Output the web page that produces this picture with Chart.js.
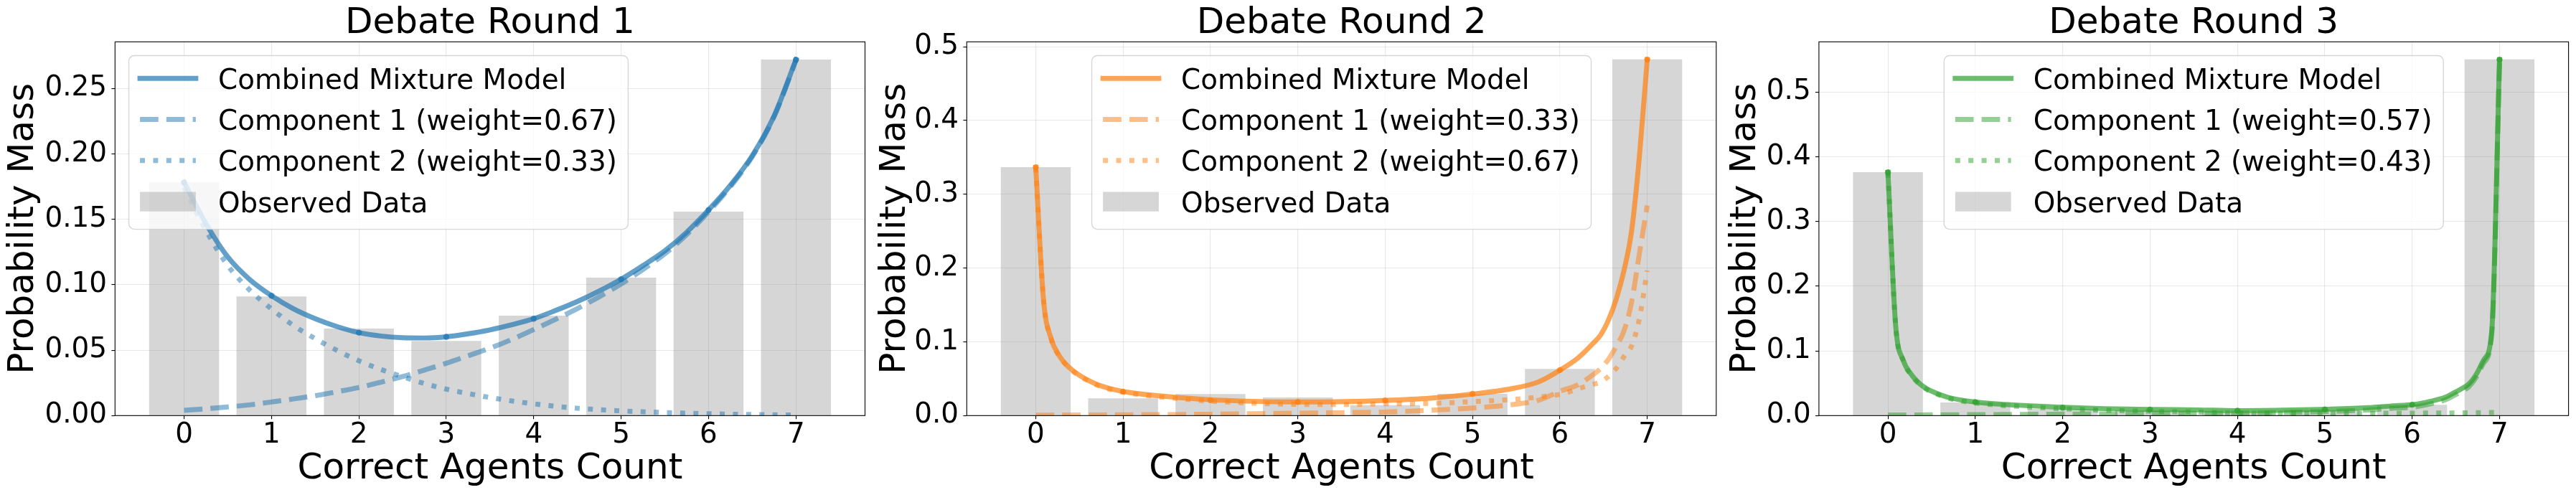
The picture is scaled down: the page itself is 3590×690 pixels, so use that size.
<!DOCTYPE html>
<html>
<head>
<meta charset="utf-8">
<script src="https://cdn.jsdelivr.net/npm/chart.js@4/dist/chart.umd.min.js"></script>
<style>
  html, body { margin: 0; padding: 0; background: #ffffff; }
  body { width: 3590px; height: 690px; position: relative; overflow: hidden; }
  canvas { position: absolute; top: 0; }
</style>
</head>
<body>
<canvas id="c1"></canvas>
<canvas id="c2"></canvas>
<canvas id="c3"></canvas>
<script>
// ---------------- data ----------------
const xTicks = [0, 1, 2, 3, 4, 5, 6, 7];
const xTickLabels = ['0', '1', '2', '3', '4', '5', '6', '7'];

const titles = ['Debate Round 1', 'Debate Round 2', 'Debate Round 3'];
const xAxisTitle = 'Correct Agents Count';
const yAxisTitle = 'Probability Mass';

const r1YTicks = [0, 0.05, 0.10, 0.15, 0.20, 0.25];
const r1YTickLabels = ['0.00', '0.05', '0.10', '0.15', '0.20', '0.25'];
const r2YTicks = [0, 0.1, 0.2, 0.3, 0.4, 0.5];
const r2YTickLabels = ['0.0', '0.1', '0.2', '0.3', '0.4', '0.5'];
const r3YTicks = [0, 0.1, 0.2, 0.3, 0.4, 0.5];
const r3YTickLabels = ['0.0', '0.1', '0.2', '0.3', '0.4', '0.5'];
const yMaxByRound = [0.2856, 0.5067, 0.5776];

const seriesLabels = ['Combined Mixture Model', 'Observed Data'];
const r1CompLabels = ['Component 1 (weight=0.67)', 'Component 2 (weight=0.33)'];
const r2CompLabels = ['Component 1 (weight=0.33)', 'Component 2 (weight=0.67)'];
const r3CompLabels = ['Component 1 (weight=0.57)', 'Component 2 (weight=0.43)'];

// observed bars
const r1Observed = [0.1782, 0.0910, 0.0665, 0.0570, 0.0763, 0.1054, 0.1558, 0.2721];
const r2Observed = [0.3368, 0.0235, 0.0292, 0.0245, 0.0141, 0.0295, 0.0633, 0.4829];
const r3Observed = [0.3762, 0.0202, 0.0103, 0.0084, 0.0050, 0.0090, 0.0168, 0.5504];

// combined model at integer counts (markers)
const r1Markers = [0.1782, 0.0916, 0.0634, 0.0602, 0.0740, 0.1042, 0.1571, 0.2719];
const r2Markers = [0.3365, 0.0325, 0.0208, 0.0185, 0.0206, 0.0294, 0.0617, 0.4826];
const r3Markers = [0.3759, 0.0210, 0.0122, 0.0092, 0.0076, 0.0095, 0.0168, 0.5500];

// round 1 curves
const r1CurveX = [0, 0.25, 0.5, 0.75, 1, 1.25, 1.5, 1.75, 2, 2.25, 2.5, 2.75, 3, 3.25, 3.5,
                  3.75, 4, 4.25, 4.5, 4.75, 5, 5.25, 5.5, 5.75, 6, 6.25, 6.5, 6.75, 7];
const r1Combined = [0.1782, 0.1467, 0.1212, 0.1040, 0.0916, 0.0816, 0.0740, 0.0680, 0.0634, 0.0608,
                    0.0595, 0.0593, 0.0602, 0.0625, 0.0655, 0.0694, 0.0740, 0.0803, 0.0872, 0.0952,
                    0.1042, 0.1146, 0.1259, 0.1401, 0.1571, 0.1760, 0.1986, 0.2290, 0.2719];
const r1Comp1 = [0.0040, 0.0052, 0.0066, 0.0082, 0.0104, 0.0127, 0.0152, 0.0182, 0.0215, 0.0255,
                 0.0298, 0.0348, 0.0400, 0.0457, 0.0515, 0.0582, 0.0657, 0.0736, 0.0818, 0.0908,
                 0.1006, 0.1117, 0.1236, 0.1383, 0.1557, 0.1749, 0.1978, 0.2284, 0.2715];
const r1Comp2 = [0.1742, 0.1415, 0.1146, 0.0960, 0.0815, 0.0689, 0.0588, 0.0498, 0.0419, 0.0353,
                 0.0297, 0.0245, 0.0202, 0.0168, 0.0138, 0.0112, 0.0090, 0.0071, 0.0056, 0.0045,
                 0.0036, 0.0029, 0.0023, 0.0018, 0.0014, 0.0011, 0.0008, 0.0006, 0.0004];

// round 2 curves
const r2CurveX = [0, 0.089, 0.177, 0.266, 0.354, 0.443, 0.532, 0.709, 0.975, 1.241, 1.506, 1.949,
                  2.481, 3.013, 3.544, 3.987, 4.519, 5.051, 5.494, 5.759, 6.025, 6.203, 6.380,
                  6.468, 6.557, 6.646, 6.734, 6.823, 6.911, 7];
const r2Combined = [0.3365, 0.1565, 0.1040, 0.0818, 0.0684, 0.0593, 0.0523, 0.0419, 0.0332, 0.0288,
                    0.0258, 0.0218, 0.0194, 0.0185, 0.0190, 0.0205, 0.0237, 0.0298, 0.0375, 0.0459,
                    0.0633, 0.0777, 0.0979, 0.1096, 0.1297, 0.1582, 0.1967, 0.2520, 0.3520, 0.4826];
const r2Comp1 = [0.0006, 0.0006, 0.0007, 0.0007, 0.0007, 0.0008, 0.0008, 0.0009, 0.0010, 0.0012,
                 0.0014, 0.0018, 0.0025, 0.0033, 0.0040, 0.0048, 0.0072, 0.0106, 0.0155, 0.0210,
                 0.0340, 0.0415, 0.0555, 0.0640, 0.0765, 0.0940, 0.1150, 0.1550, 0.2200, 0.2848];
const r2Comp2 = [0.3359, 0.1559, 0.1033, 0.0811, 0.0677, 0.0585, 0.0515, 0.0410, 0.0322, 0.0276,
                 0.0244, 0.0200, 0.0169, 0.0152, 0.0150, 0.0160, 0.0165, 0.0192, 0.0222, 0.0252,
                 0.0293, 0.0362, 0.0424, 0.0456, 0.0532, 0.0642, 0.0800, 0.0950, 0.1320, 0.1967];

// round 3 curves
const r3CurveX = [0, 0.089, 0.177, 0.266, 0.354, 0.443, 0.532, 0.709, 0.975, 1.241, 1.506, 1.949,
                  2.481, 3.013, 3.544, 3.987, 4.519, 5.051, 5.494, 5.759, 6.025, 6.203, 6.380,
                  6.468, 6.557, 6.646, 6.734, 6.823, 6.911, 7];
const r3Combined = [0.3759, 0.1383, 0.0848, 0.0638, 0.0504, 0.0416, 0.0359, 0.0275, 0.0214, 0.0180,
                    0.0160, 0.0130, 0.0107, 0.0095, 0.0088, 0.0077, 0.0084, 0.0099, 0.0122, 0.0149,
                    0.0172, 0.0218, 0.0283, 0.0344, 0.0409, 0.0485, 0.0638, 0.0867, 0.1306, 0.5500];
const r3Comp1 = [0.0008, 0.0009, 0.0009, 0.0010, 0.0010, 0.0011, 0.0011, 0.0012, 0.0014, 0.0016,
                 0.0018, 0.0022, 0.0026, 0.0030, 0.0034, 0.0037, 0.0047, 0.0063, 0.0086, 0.0112,
                 0.0134, 0.0179, 0.0243, 0.0303, 0.0367, 0.0442, 0.0594, 0.0821, 0.1258, 0.5450];
const r3Comp2 = [0.3751, 0.1374, 0.0839, 0.0628, 0.0494, 0.0405, 0.0348, 0.0263, 0.0200, 0.0164,
                 0.0142, 0.0108, 0.0081, 0.0065, 0.0054, 0.0040, 0.0037, 0.0036, 0.0036, 0.0037,
                 0.0038, 0.0039, 0.0040, 0.0041, 0.0042, 0.0043, 0.0044, 0.0046, 0.0048, 0.0050];

// ---------------- styling / layout ----------------
const rgbs = ['31,119,180', '255,127,14', '44,160,44'];
const LW = 6.94;
const FS_TICK = 38.9, FS_LEG = 38.9, FS_BIG = 50;
const AREA_TOP = 58.3, AREA_BOTTOM = 579.3, H = 690;

const panels = [
  { id: 'c1', cl: 0,    cw: 1220, al: 160.3,  ar: 1205.5, yTitlePad: 8.45, legendAlign: 'left',
    yTicks: r1YTicks, yLabels: r1YTickLabels, obs: r1Observed, mk: r1Markers,
    cx: r1CurveX, comb: r1Combined, c1: r1Comp1, c2: r1Comp2, comp: r1CompLabels },
  { id: 'c2', cl: 1220, cw: 1185, al: 1347.3, ar: 2391.8, yTitlePad: 2.85, legendAlign: 'center',
    yTicks: r2YTicks, yLabels: r2YTickLabels, obs: r2Observed, mk: r2Markers,
    cx: r2CurveX, comb: r2Combined, c1: r2Comp1, c2: r2Comp2, comp: r2CompLabels },
  { id: 'c3', cl: 2405, cw: 1185, al: 2534.9, ar: 3579.6, yTitlePad: 2.55, legendAlign: 'center',
    yTicks: r3YTicks, yLabels: r3YTickLabels, obs: r3Observed, mk: r3Markers,
    cx: r3CurveX, comb: r3Combined, c1: r3Comp1, c2: r3Comp2, comp: r3CompLabels }
];

Chart.defaults.font.family = '"DejaVu Sans", sans-serif';
Chart.defaults.color = '#000000';

// spines (all four sides, drawn above data like matplotlib)
const spinePlugin = {
  id: 'spines',
  afterDatasetsDraw(chart) {
    const { ctx, chartArea: a } = chart;
    ctx.save();
    ctx.strokeStyle = '#000000';
    ctx.lineWidth = 1.1;
    ctx.setLineDash([]);
    ctx.strokeRect(a.left, a.top, a.right - a.left, a.bottom - a.top);
    ctx.restore();
  }
};

// matplotlib-like legend box inside the axes
const mplLegend = {
  id: 'mplLegend',
  afterDraw(chart, args, o) {
    const ctx = chart.ctx, a = chart.chartArea;
    const fs = o.fontSize;
    ctx.save();
    ctx.font = fs + 'px "DejaVu Sans"';
    const items = o.items.map(i => chart.data.datasets[i]);
    const textW = Math.max(...items.map(d => ctx.measureText(d.label).width));
    const pad = 0.4 * fs, hl = 2 * fs, htp = 0.8 * fs;
    const w = pad + hl + htp + textW + pad;
    const h = o.height;
    const x0 = o.align === 'left' ? a.left + o.inset : (a.left + a.right) / 2 - w / 2;
    const y0 = a.top + o.inset;
    const r = 0.2 * fs;
    ctx.beginPath();
    ctx.moveTo(x0 + r, y0);
    ctx.lineTo(x0 + w - r, y0);
    ctx.arcTo(x0 + w, y0, x0 + w, y0 + r, r);
    ctx.lineTo(x0 + w, y0 + h - r);
    ctx.arcTo(x0 + w, y0 + h, x0 + w - r, y0 + h, r);
    ctx.lineTo(x0 + r, y0 + h);
    ctx.arcTo(x0, y0 + h, x0, y0 + h - r, r);
    ctx.lineTo(x0, y0 + r);
    ctx.arcTo(x0, y0, x0 + r, y0, r);
    ctx.closePath();
    ctx.fillStyle = 'rgba(255,255,255,0.8)';
    ctx.fill();
    ctx.strokeStyle = 'rgba(204,204,204,0.8)';
    ctx.lineWidth = 1.39;
    ctx.stroke();
    items.forEach((d, i) => {
      const base = y0 + o.firstBaseline + i * o.rowStep;
      const cy = base - o.handleRise;
      const hx0 = x0 + pad;
      if (d.type === 'bar') {
        ctx.fillStyle = d.backgroundColor;
        ctx.fillRect(hx0, cy - 0.35 * fs, hl, 0.7 * fs);
      } else {
        ctx.beginPath();
        ctx.setLineDash(d.borderDash || []);
        ctx.lineDashOffset = 0;
        ctx.lineCap = d.borderCapStyle || 'butt';
        ctx.strokeStyle = d.borderColor;
        ctx.lineWidth = d.borderWidth;
        ctx.moveTo(hx0, cy);
        ctx.lineTo(hx0 + hl, cy);
        ctx.stroke();
        ctx.setLineDash([]);
      }
      ctx.fillStyle = '#000000';
      ctx.textBaseline = 'alphabetic';
      ctx.textAlign = 'left';
      ctx.fillText(d.label, hx0 + hl + htp, base);
    });
    ctx.restore();
  }
};

panels.forEach((p, k) => {
  const cv = document.getElementById(p.id);
  cv.width = p.cw; cv.height = H;
  cv.style.left = p.cl + 'px';
  cv.style.width = p.cw + 'px';
  cv.style.height = H + 'px';
  const rgb = rgbs[k];
  const pts = (xs, ys) => xs.map((x, i) => ({ x: x, y: ys[i] }));
  const datasets = [
    { type: 'line', label: 'markers', data: pts(xTicks, p.mk), showLine: false,
      pointRadius: 4.2, pointHoverRadius: 4.2, pointBorderWidth: 0,
      pointBackgroundColor: `rgba(${rgb},0.75)`, borderColor: `rgba(${rgb},0.75)`, clip: 0 },
    { type: 'line', label: p.comp[1], data: pts(p.cx, p.c2), borderColor: `rgba(${rgb},0.5)`,
      borderWidth: LW, borderDash: [LW * 1.0, LW * 1.65], borderCapStyle: 'butt',
      borderJoinStyle: 'round', pointRadius: 0, fill: false, cubicInterpolationMode: 'monotone', clip: 0 },
    { type: 'line', label: p.comp[0], data: pts(p.cx, p.c1), borderColor: `rgba(${rgb},0.5)`,
      borderWidth: LW, borderDash: [LW * 3.7, LW * 1.6], borderCapStyle: 'butt',
      borderJoinStyle: 'round', pointRadius: 0, fill: false, cubicInterpolationMode: 'monotone', clip: 0 },
    { type: 'line', label: seriesLabels[0], data: pts(p.cx, p.comb), borderColor: `rgba(${rgb},0.7)`,
      borderWidth: LW, borderCapStyle: 'square', borderJoinStyle: 'round', pointRadius: 0,
      fill: false, cubicInterpolationMode: 'monotone', clip: 0 },
    { type: 'bar', label: seriesLabels[1], data: pts(xTicks, p.obs),
      backgroundColor: 'rgba(128,128,128,0.32)', borderWidth: 0,
      barPercentage: 0.8, categoryPercentage: 1.0, clip: 0 }
  ];
  const yTicks = p.yTicks, yLabels = p.yLabels;
  new Chart(cv, {
    type: 'bar',
    data: { datasets },
    plugins: [spinePlugin, mplLegend],
    options: {
      responsive: false,
      maintainAspectRatio: false,
      devicePixelRatio: 1,
      animation: false,
      events: [],
      layout: { autoPadding: false,
        padding: { left: 0, top: 0, bottom: 0, right: p.cw - (p.ar - p.cl) } },
      plugins: {
        legend: { display: false },
        tooltip: { enabled: false },
        title: { display: true, text: titles[k], fullSize: false, color: '#000',
          font: { size: FS_BIG, weight: 'normal', lineHeight: 1 },
          padding: { top: 8.3, bottom: AREA_TOP - 8.3 - FS_BIG } },
        mplLegend: { items: [3, 2, 1, 4], fontSize: FS_LEG, align: p.legendAlign,
          inset: 19.2, height: 242.1, firstBaseline: 46.1, rowStep: 57.3, handleRise: 14.4 }
      },
      scales: {
        x: {
          type: 'linear', min: -0.79, max: 7.79, offset: false,
          afterFit(s) { s.height = H - AREA_BOTTOM; },
          afterBuildTicks(s) { s.ticks = xTicks.map(v => ({ value: v })); },
          grid: { offset: false, color: 'rgba(176,176,176,0.3)', lineWidth: 1.1,
            drawTicks: true, tickLength: 4.9, tickColor: '#000', tickWidth: 1.1 },
          border: { display: false },
          ticks: { autoSkip: false, maxRotation: 0, minRotation: 0, padding: 3.3, color: '#000',
            font: { size: FS_TICK, lineHeight: 1 },
            callback: (v, i) => xTickLabels[i] },
          title: { display: true, text: xAxisTitle, color: '#000',
            font: { size: FS_BIG, lineHeight: 1 }, padding: { top: 0, bottom: 10.85 } }
        },
        y: {
          type: 'linear', min: 0, max: yMaxByRound[k],
          afterFit(s) { s.width = p.al - p.cl; },
          afterBuildTicks(s) { s.ticks = yTicks.map(v => ({ value: v })); },
          grid: { color: 'rgba(176,176,176,0.3)', lineWidth: 1.1,
            drawTicks: true, tickLength: 4.9, tickColor: '#000', tickWidth: 1.1 },
          border: { display: false },
          ticks: { autoSkip: false, padding: 6.3, color: '#000',
            font: { size: FS_TICK, lineHeight: 1 },
            callback: (v, i) => yLabels[i] },
          title: { display: true, text: yAxisTitle, color: '#000',
            font: { size: FS_BIG, lineHeight: 1 }, padding: { top: p.yTitlePad, bottom: 0 } }
        }
      }
    }
  });
});
</script>
</body>
</html>
